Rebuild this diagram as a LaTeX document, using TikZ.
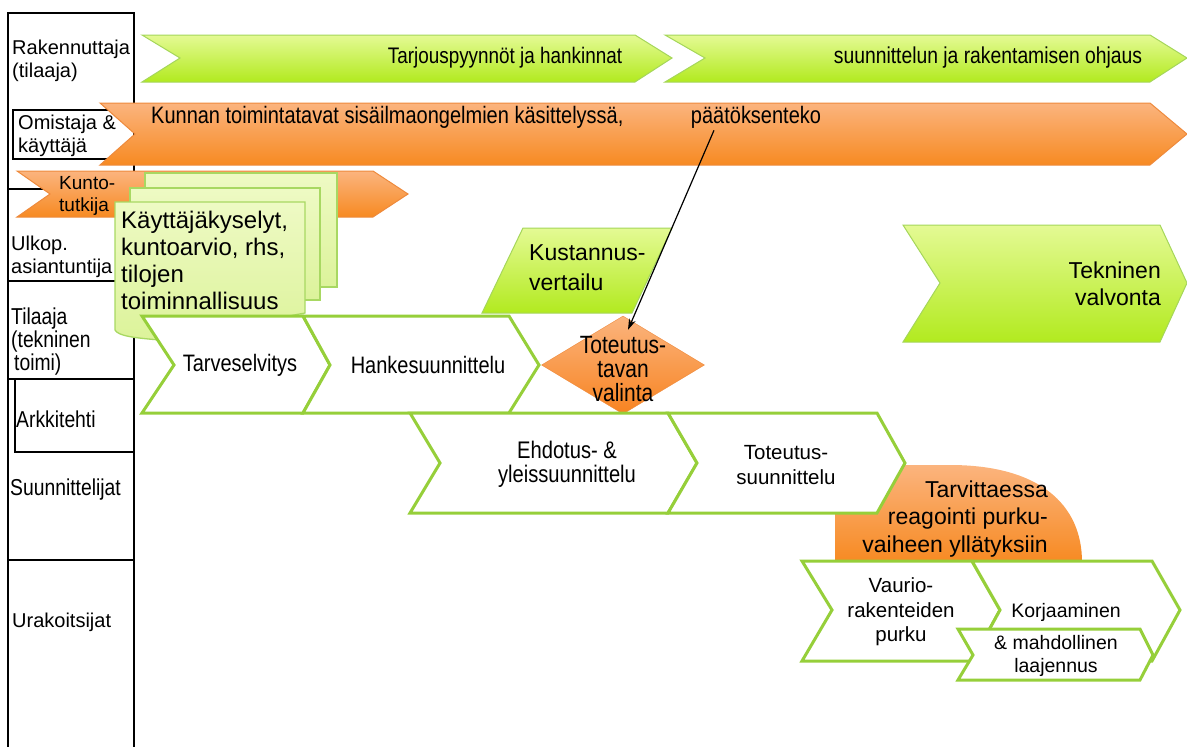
\documentclass[tikz,border=0pt]{standalone}
\usepackage{fontspec}
\setmainfont{Liberation Sans}
\newfontfamily\narrow[FakeStretch=0.84]{Liberation Sans}
\usepackage{tikz}
\usetikzlibrary{shapes.geometric,arrows.meta}

\definecolor{greentop}{HTML}{E4FA94}
\definecolor{greenbot}{HTML}{B2EA1F}
\definecolor{greenedge}{HTML}{A5D65A}
\definecolor{chevedge}{HTML}{96CF3A}
\definecolor{orangetop}{HTML}{FBB47E}
\definecolor{orangebot}{HTML}{F78A22}
\definecolor{orangeedge}{HTML}{EE8A3C}
\definecolor{sheettop}{HTML}{EEFAC4}
\definecolor{sheetbot}{HTML}{DCF39A}
\definecolor{sheetedge}{HTML}{A8D862}

\tikzset{
  lane/.style={draw=black,line width=1.3pt},
  greenarrow/.style={top color=greentop,bottom color=greenbot,draw=greenedge,line width=1pt},
  orangearrow/.style={top color=orangetop,bottom color=orangebot,draw=orangeedge,line width=1pt},
  chev/.style={fill=white,draw=chevedge,line width=3pt,line join=miter},
  sheet/.style={top color=sheettop,bottom color=sheetbot,draw=sheetedge,line width=1.3pt},
  lbl/.style={anchor=west,align=left,inner sep=0pt,font=\fontsize{20}{23}\selectfont},
  nlbl/.style={anchor=west,align=left,inner sep=0pt,font=\narrow\fontsize{23}{23}\selectfont},
  ntxt/.style={align=center,inner sep=0pt,font=\narrow\fontsize{23.8}{24}\selectfont},
  txt/.style={align=center,inner sep=0pt,font=\fontsize{20.5}{24.5}\selectfont},
  bigtxt/.style={align=center,inner sep=0pt,font=\fontsize{23}{27.5}\selectfont}
}

\begin{document}
\begin{tikzpicture}[x=1pt,y=-1pt]
\useasboundingbox (0,0) rectangle (1187,747);

% roles column
\draw[lane] (8,760) -- (8,13) -- (134,13) -- (134,760);
\draw[lane] (8,189) -- (134,189);
\draw[lane] (8,281) -- (134,281);
\draw[lane] (8,379) -- (134,379);
\draw[lane] (15,379) -- (15,452) -- (134,452);
\draw[lane] (8,560) -- (134,560);
\draw[lane] (13,110) rectangle (134,159);

\node[lbl] (rak) at (12,61) {Rakennuttaja\\(tilaaja)};
\node[lbl] (omi) at (18,136) {Omistaja \&\\käyttäjä};
\node[lbl] (ulk) at (11,257) {Ulkop.\\asiantuntija};
\node[nlbl] (til) at (11,342) {Tilaaja\\(tekninen\\\hspace{3pt}toimi)};
\node[nlbl] (ark) at (16,419) {Arkkitehti};
\node[nlbl] (suu) at (10,490) {Suunnittelijat};
\node[lbl] (ura) at (12,622) {Urakoitsijat};

% top arrows
\path[greenarrow] (142,35) -- (635,35) -- (672,58) -- (635,82) -- (142,82) -- (180,58) -- cycle;
\path[greenarrow] (665,35) -- (1150,35) -- (1187,58) -- (1150,82) -- (665,82) -- (705,58) -- cycle;
\node[ntxt,font=\narrow\fontsize{22.5}{24}\selectfont] (tarj) at (505,58) {Tarjouspyynnöt ja hankinnat};
\node[ntxt,font=\narrow\fontsize{23}{24}\selectfont] (ohj) at (988,58) {suunnittelun ja rakentamisen ohjaus};

\path[orangearrow] (100,103) -- (1150,103) -- (1187,134) -- (1150,165) -- (100,165) -- (135,134) -- cycle;
\node[ntxt,anchor=west] (kunnan) at (151,117) {Kunnan toimintatavat sisäilmaongelmien käsittelyssä,};
\node[ntxt] (paatos) at (756,117) {päätöksenteko};

\path[orangearrow] (17,171) -- (373,171) -- (408,194) -- (373,217) -- (17,217) -- (50,194) -- cycle;
\node[lbl,font=\fontsize{19}{22.5}\selectfont] (kunto) at (59,196) {Kunto-\\tutkija};

% sheets
\path[sheet] (145,173) rectangle (337,287);
\path[sheet] (130,188) rectangle (320,300);
\path[sheet] (115,202) -- (305,202) -- (305,313) -- (160,340) .. controls (135,338) and (118,336) .. (115,330) -- cycle;
\node[lbl,font=\fontsize{24}{27}\selectfont] (kysely) at (121,260) {Käyttäjäkyselyt,\\kuntoarvio, rhs,\\tilojen\\toiminnallisuus};

% tilaaja row
\path[chev] (142,316) -- (303,316) -- (330,365) -- (303,413) -- (142,413) -- (174,365) -- cycle;
\path[chev] (303,316) -- (509,316) -- (539,365) -- (509,413) -- (303,413) -- (330,365) -- cycle;
\node[ntxt] (tarve) at (240,365) {Tarveselvitys};
\node[ntxt] (hanke) at (428,365) {Hankesuunnittelu};

\path[greenarrow] (523,228) -- (672,228) -- (632,313) -- (482,313) -- cycle;
\node[bigtxt,anchor=west,align=left,font=\fontsize{23}{30}\selectfont] (kust) at (529,268) {Kustannus-\\vertailu};

\node[diamond,minimum width=163pt,minimum height=98pt,inner sep=0pt,top color=orangetop,bottom color=orangebot!95!red,draw=orangeedge] (valinta) at (623,365) {};
\node[ntxt,font=\narrow\fontsize{25}{24}\selectfont] (valtxt) at (623,369) {Toteutus-\\tavan\\valinta};

\draw[-{Stealth[length=11pt,width=7pt]},line width=1.2pt] ([xshift=-42pt,yshift=-2pt]paatos.south) -- ([xshift=5pt,yshift=-14pt]valinta.north);

\path[greenarrow] (903,225) -- (1160,225) -- (1187,283) -- (1160,342) -- (903,342) -- (940,283) -- cycle;
\node[bigtxt,anchor=east,align=right] (valv) at (1161,284) {Tekninen\\valvonta};

% suunnittelijat row
\path[orangearrow,draw=none] (835,562) -- (835,465) -- (950,465) .. controls (1040,465) and (1082,505) .. (1082,562) -- cycle;
\path[chev] (410,413) -- (668,413) -- (697,463) -- (668,513) -- (410,513) -- (440,463) -- cycle;
\path[chev] (668,413) -- (877,413) -- (905,463) -- (877,513) -- (668,513) -- (697,463) -- cycle;
\node[ntxt,font=\narrow\fontsize{24}{24}\selectfont] (ehd) at (567,464) {Ehdotus- \&\\yleissuunnittelu};
\node[txt] (totsuu) at (786,465) {Toteutus-\\suunnittelu};
\node[bigtxt,anchor=east,align=right] (tarv) at (1048,519) {Tarvittaessa\\reagointi purku-\\vaiheen yllätyksiin};

% urakoitsijat row
\path[chev] (802,561) -- (972,561) -- (1000,610) -- (972,661) -- (802,661) -- (832,610) -- cycle;
\path[chev] (972,561) -- (1152,561) -- (1180,610) -- (1152,661) -- (972,661) -- (1000,610) -- cycle;
\path[chev] (958,629) -- (1140,629) -- (1153,655) -- (1140,680) -- (958,680) -- (973,655) -- cycle;
\node[txt] (purku) at (901,612) {Vaurio-\\rakenteiden\\purku};
\node[txt,font=\fontsize{19.5}{24.5}\selectfont] (korj) at (1066,612) {Korjaaminen};
\node[txt,font=\fontsize{19.5}{23}\selectfont] (laaj) at (1056,656) {\& mahdollinen\\laajennus};

\end{tikzpicture}
\end{document}
